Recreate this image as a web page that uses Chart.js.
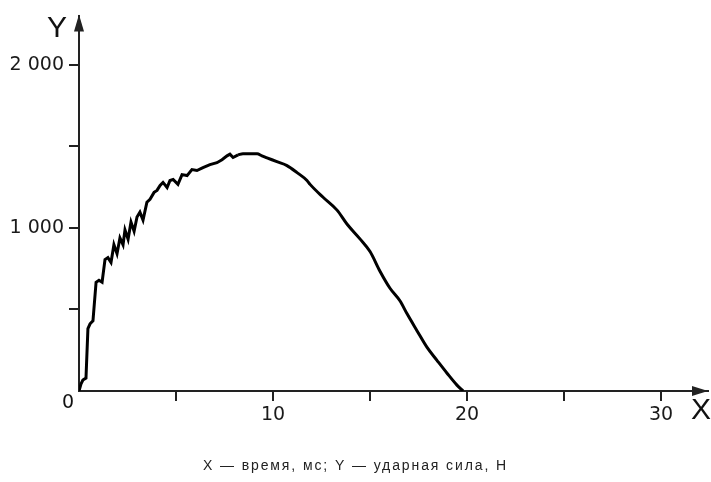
<!DOCTYPE html>
<html>
<head>
<meta charset="utf-8">
<script src="https://cdn.jsdelivr.net/npm/chart.js@4.4.1/dist/chart.umd.min.js"></script>
<style>
  body { margin: 0; background: #fff; }
  #wrap { width: 711px; height: 482px; }
</style>
</head>
<body>
<div id="wrap"><canvas id="impactChart" width="711" height="482"></canvas></div>
<script>
// время, мс
const timeMs = [0, 0.1, 0.2, 0.36, 0.46, 0.57, 0.72, 0.88, 1.03, 1.19, 1.34, 1.49, 1.65, 1.8, 1.96,
  2.11, 2.27, 2.37, 2.53, 2.68, 2.84, 2.99, 3.14, 3.3, 3.5, 3.66, 3.87, 4.02, 4.18, 4.33, 4.54,
  4.69, 4.85, 5.1, 5.31, 5.57, 5.82, 6.08, 6.39, 6.75, 7.11, 7.37, 7.63, 7.78, 7.94, 8.2, 8.45,
  8.81, 9.18, 9.43, 9.69, 10.2, 10.72, 11.24, 11.75, 11.91, 12.58, 13.3, 13.81, 14.48, 15.0,
  15.52, 16.03, 16.55, 16.91, 17.42, 17.94, 18.45, 18.97, 19.48, 19.8];
// ударная сила, Н
const forceN = [0, 42, 67, 79, 382, 412, 430, 667, 679, 667, 806, 818, 788, 897, 842,
  939, 897, 988, 930, 1036, 980, 1067, 1097, 1048, 1158, 1176, 1218, 1230, 1261, 1279, 1248,
  1291, 1297, 1267, 1327, 1321, 1358, 1352, 1370, 1388, 1400, 1418, 1442, 1452, 1432, 1448, 1455,
  1455, 1455, 1442, 1430, 1406, 1382, 1339, 1291, 1267, 1188, 1109, 1024, 933, 855,
  733, 630, 552, 473, 370, 267, 188, 109, 36, 0];
// the noisy rise is drawn with straight segments, the fall from here on is smooth
const smoothFrom = 45;

const xTicks = [5, 10, 15, 20, 25, 30];
const yTicks = [500, 1000, 1500, 2000];
const xLabels = { 10: '10', 20: '20', 30: '30' };
const yLabels = { 1000: '1 000', 2000: '2 000' };
const caption = 'X — время, мс; Y — ударная сила, Н';

const axisColor = '#222';
const tickFont = '"DejaVu Sans", sans-serif';
const textFont = '"Liberation Sans", Arial, sans-serif';

const points = timeMs.map((t, i) => ({ x: t, y: forceN[i] }));

// arrows, axis letters, origin "0" and caption
const decorations = {
  id: 'decorations',
  afterDraw(chart) {
    const ctx = chart.ctx;
    const x = chart.scales.x, y = chart.scales.y;
    const ox = x.getPixelForValue(0), oy = y.getPixelForValue(0);
    const right = chart.chartArea.right, top = chart.chartArea.top;
    ctx.save();
    ctx.fillStyle = axisColor;
    // x arrow
    ctx.beginPath();
    ctx.moveTo(right, oy);
    ctx.lineTo(right - 16, oy - 5);
    ctx.lineTo(right - 16, oy + 5);
    ctx.closePath();
    ctx.fill();
    // y arrow
    ctx.beginPath();
    ctx.moveTo(ox, top - 2);
    ctx.lineTo(ox - 5, top + 15);
    ctx.lineTo(ox + 5, top + 15);
    ctx.closePath();
    ctx.fill();

    ctx.fillStyle = '#111';
    ctx.textAlign = 'center';
    ctx.textBaseline = 'middle';
    ctx.font = '30px ' + textFont;
    ctx.fillText('Y', ox - 22, top + 12);
    ctx.fillText('X', right - 7, oy + 20);
    ctx.font = '19px ' + tickFont;
    ctx.fillText('0', ox - 11, oy + 12);

    ctx.font = '14px ' + textFont;
    ctx.letterSpacing = '1.9px';
    ctx.fillStyle = '#222';
    ctx.fillText(caption, chart.width / 2, 466);
    ctx.restore();
  }
};

const lineStyle = { borderColor: '#000', borderWidth: 3, pointRadius: 0, fill: false };

new Chart(document.getElementById('impactChart'), {
  type: 'line',
  data: {
    datasets: [
      Object.assign({ data: points.slice(0, smoothFrom + 1), tension: 0 }, lineStyle),
      Object.assign({ data: points.slice(smoothFrom), cubicInterpolationMode: 'monotone' }, lineStyle)
    ]
  },
  options: {
    responsive: false,
    animation: false,
    layout: { padding: { top: 12, right: 3, left: 0, bottom: 0 } },
    plugins: {
      legend: { display: false },
      tooltip: { enabled: false }
    },
    scales: {
      x: {
        type: 'linear',
        min: 0,
        max: 32.42,
        afterBuildTicks: s => { s.ticks = xTicks.map(v => ({ value: v })); },
        afterFit: s => { s.height = 91; },
        ticks: {
          autoSkip: false,
          maxRotation: 0,
          padding: 3,
          color: '#1a1a1a',
          font: { family: tickFont, size: 19 },
          callback: v => xLabels[v] || ''
        },
        grid: { drawOnChartArea: false, color: axisColor, lineWidth: 2, tickLength: 10 },
        border: { display: true, color: axisColor, width: 2 }
      },
      y: {
        min: 0,
        max: 2297,
        afterBuildTicks: s => { s.ticks = yTicks.map(v => ({ value: v })); },
        afterFit: s => { s.width = 79; },
        ticks: {
          autoSkip: false,
          padding: 5,
          color: '#1a1a1a',
          font: { family: tickFont, size: 19 },
          callback: v => yLabels[v] || ''
        },
        grid: { drawOnChartArea: false, color: axisColor, lineWidth: 2, tickLength: 10 },
        border: { display: true, color: axisColor, width: 2 }
      }
    }
  },
  plugins: [decorations]
});
</script>
</body>
</html>
